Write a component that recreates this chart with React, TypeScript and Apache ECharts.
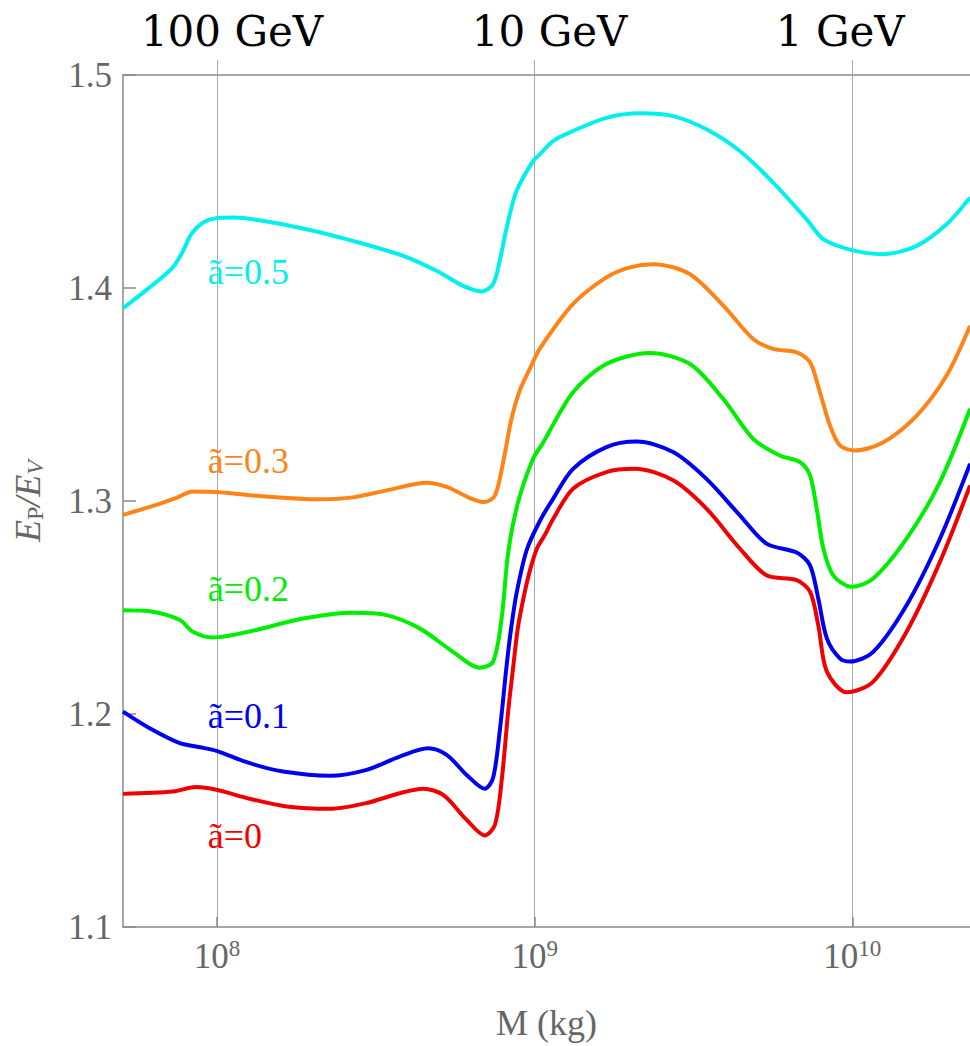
import React, { useEffect, useRef } from "react";
import * as echarts from "echarts";

// x: log10 of mass M (kg), y: E_P / E_V
const a05LogM = [7.704, 7.788, 7.861, 7.893, 7.919, 7.956, 7.998, 8.05, 8.134, 8.282, 8.428, 8.586, 8.691, 8.775, 8.833, 8.869, 8.89, 8.912, 8.943, 8.995, 9.016, 9.058, 9.121, 9.226, 9.331, 9.436, 9.541, 9.646, 9.751, 9.856, 9.909, 9.998, 10.098, 10.203, 10.297, 10.371];
const a05Ratio = [1.3905, 1.4003, 1.4097, 1.4174, 1.4253, 1.4307, 1.4328, 1.4331, 1.4318, 1.4276, 1.4221, 1.4151, 1.4081, 1.401, 1.3984, 1.4018, 1.4127, 1.4284, 1.4456, 1.4596, 1.4627, 1.469, 1.4737, 1.4799, 1.482, 1.4807, 1.4745, 1.4643, 1.4495, 1.4323, 1.4229, 1.4178, 1.4159, 1.4198, 1.4299, 1.4425];

const a03LogM = [7.704, 7.798, 7.872, 7.924, 7.998, 8.113, 8.323, 8.428, 8.534, 8.66, 8.723, 8.796, 8.843, 8.875, 8.901, 8.927, 8.953, 8.985, 9.016, 9.121, 9.226, 9.3, 9.373, 9.489, 9.594, 9.688, 9.751, 9.825, 9.867, 9.898, 9.93, 9.961, 10.008, 10.098, 10.203, 10.297, 10.371];
const a03Ratio = [1.2935, 1.2977, 1.3015, 1.3045, 1.3042, 1.3026, 1.3008, 1.3017, 1.305, 1.3086, 1.3066, 1.3014, 1.2995, 1.3026, 1.3183, 1.3386, 1.3518, 1.3621, 1.3714, 1.3925, 1.405, 1.4097, 1.4112, 1.4065, 1.3917, 1.3761, 1.3714, 1.3698, 1.3651, 1.3511, 1.3354, 1.3261, 1.3237, 1.3276, 1.3401, 1.3589, 1.3823];

const a02LogM = [7.704, 7.798, 7.883, 7.924, 7.987, 8.113, 8.271, 8.428, 8.534, 8.638, 8.743, 8.827, 8.869, 8.896, 8.917, 8.948, 8.995, 9.025, 9.121, 9.226, 9.363, 9.489, 9.594, 9.688, 9.772, 9.835, 9.867, 9.888, 9.909, 9.94, 9.998, 10.066, 10.171, 10.276, 10.371];
const a02Ratio = [1.2487, 1.248, 1.2441, 1.2386, 1.2359, 1.2391, 1.2448, 1.2475, 1.2464, 1.2402, 1.2292, 1.2217, 1.2245, 1.2448, 1.2761, 1.2995, 1.3198, 1.327, 1.3511, 1.3643, 1.3695, 1.3643, 1.3479, 1.3292, 1.3214, 1.3183, 1.312, 1.2964, 1.2777, 1.2651, 1.2597, 1.2636, 1.2823, 1.3089, 1.3433];

const a01LogM = [7.704, 7.788, 7.883, 7.946, 7.998, 8.103, 8.208, 8.355, 8.471, 8.575, 8.665, 8.723, 8.786, 8.843, 8.869, 8.89, 8.912, 8.926, 8.943, 8.975, 9.016, 9.06, 9.121, 9.226, 9.321, 9.436, 9.541, 9.646, 9.73, 9.825, 9.867, 9.893, 9.92, 9.961, 9.993, 10.066, 10.171, 10.276, 10.371];
const a01Ratio = [1.2011, 1.1933, 1.1863, 1.1844, 1.1827, 1.1769, 1.173, 1.171, 1.1738, 1.18, 1.1839, 1.1808, 1.1714, 1.1649, 1.1699, 1.1918, 1.223, 1.2402, 1.2566, 1.277, 1.2905, 1.3015, 1.3151, 1.3253, 1.3279, 1.323, 1.3104, 1.2933, 1.28, 1.2758, 1.2698, 1.2542, 1.2355, 1.2261, 1.2246, 1.2292, 1.2511, 1.2823, 1.3175];

const a00LogM = [7.704, 7.861, 7.935, 7.998, 8.103, 8.219, 8.355, 8.471, 8.575, 8.649, 8.712, 8.786, 8.843, 8.875, 8.896, 8.917, 8.932, 8.947, 8.966, 8.985, 9.007, 9.032, 9.06, 9.121, 9.226, 9.316, 9.436, 9.541, 9.646, 9.73, 9.825, 9.867, 9.893, 9.92, 9.983, 10.066, 10.171, 10.276, 10.371];
const a00Ratio = [1.1625, 1.1636, 1.1657, 1.1644, 1.1602, 1.1566, 1.1555, 1.1582, 1.1628, 1.1649, 1.162, 1.1503, 1.143, 1.148, 1.1685, 1.2017, 1.2214, 1.2402, 1.2552, 1.2673, 1.2776, 1.284, 1.292, 1.3058, 1.3136, 1.3151, 1.3097, 1.2964, 1.2777, 1.2651, 1.2628, 1.2574, 1.2417, 1.2199, 1.2102, 1.2152, 1.2386, 1.2714, 1.3073];

const curveNames = ["ã=0.5", "ã=0.3", "ã=0.2", "ã=0.1", "ã=0"];
const curveColors = ["#00F0F0", "#FF8418", "#00EE00", "#0000F0", "#F00000"];
const curveLogM = [a05LogM, a03LogM, a02LogM, a01LogM, a00LogM];
const curveRatio = [a05Ratio, a03Ratio, a02Ratio, a01Ratio, a00Ratio];

const labelLogM = [7.9707, 7.9707, 7.9707, 7.9707, 7.9707];
const labelRatio = [1.4077, 1.3187, 1.2589, 1.1989, 1.1427];

const xMinLog = 7.704;
const xMaxLog = 10.3707;
const yTicks = [1.1, 1.2, 1.3, 1.4, 1.5];
const decadeExps = [8, 9, 10];
const energyLabels: Record<number, string> = { 8: "{a|100 GeV}", 9: "{a|10 GeV}", 10: "{b|1 GeV}" };

const SERIF = "Liberation Serif";
const GRAY = "#666666";

export default function App() {
  const ref = useRef<HTMLDivElement>(null);
  useEffect(() => {
    if (!ref.current) return;
    const chart = echarts.init(ref.current, null, { renderer: "svg" });
    const decades = decadeExps.map((e) => Math.pow(10, e));
    const xMin = Math.pow(10, xMinLog);
    const xMax = Math.pow(10, xMaxLog);
    const series = curveNames.map((name, i) => ({
      name,
      type: "line",
      data: curveLogM[i].map((l, j) => [Math.pow(10, l), curveRatio[i][j]]),
      smooth: 0.3,
      showSymbol: false,
      symbol: "none",
      lineStyle: { color: curveColors[i], width: 4 },
      itemStyle: { color: curveColors[i] },
      silent: true,
      markPoint: {
        symbol: "circle",
        symbolSize: 0,
        silent: true,
        data: [{ coord: [Math.pow(10, labelLogM[i]), labelRatio[i]] }],
        label: {
          show: true,
          position: "right",
          distance: 0,
          formatter: name,
          color: curveColors[i],
          fontFamily: SERIF,
          fontSize: 36,
        },
      },
    }));
    chart.setOption({
      animation: false,
      backgroundColor: "#ffffff",
      grid: { left: 123, top: 75, right: 0, height: 854, containLabel: false },
      xAxis: [
        {
          type: "log",
          logBase: 10,
          min: xMin,
          max: xMax,
          position: "bottom",
          axisLine: { show: true, lineStyle: { color: "#8a8a8a", width: 1.5 } },
          axisTick: { show: true, inside: true, length: 10, customValues: decades, lineStyle: { color: "#8a8a8a", width: 1.5 } },
          minorTick: { show: false },
          splitLine: { show: true, lineStyle: { color: "#a8a8a8", width: 1 } },
          axisLabel: {
            customValues: decades,
            margin: 10,
            formatter: (v: number) => "{b|10}{s|" + Math.round(Math.log10(v)) + "}",
            rich: {
              b: { fontFamily: SERIF, fontSize: 35, color: GRAY },
              s: { fontFamily: SERIF, fontSize: 23, color: GRAY, padding: [0, 0, 16, 0] },
            },
          },
          name: "M (kg)",
          nameLocation: "middle",
          nameGap: 78,
          nameTextStyle: { fontFamily: SERIF, fontSize: 36, color: GRAY },
        },
        {
          type: "log",
          logBase: 10,
          min: xMin,
          max: xMax,
          position: "top",
          axisLine: { show: true, lineStyle: { color: "#8a8a8a", width: 1.5 } },
          axisTick: { show: true, inside: false, length: 15, customValues: decades, lineStyle: { color: "#a8a8a8", width: 1 } },
          minorTick: { show: false },
          splitLine: { show: false },
          axisLabel: {
            customValues: decades,
            margin: 23,
            formatter: (v: number) => energyLabels[Math.round(Math.log10(v))] || "",
            rich: {
              a: { fontFamily: "DejaVu Serif", fontSize: 42, color: "#000", padding: [0, 0, 0, 30] },
              b: { fontFamily: "DejaVu Serif", fontSize: 42, color: "#000", padding: [0, 24, 0, 0] },
            },
          },
        },
      ],
      yAxis: {
        type: "value",
        min: 1.1,
        max: 1.5,
        interval: 0.1,
        axisLine: { show: true, lineStyle: { color: "#8a8a8a", width: 1.5 } },
        axisTick: { show: true, inside: true, length: 13, lineStyle: { color: "#8a8a8a", width: 1.5 } },
        splitLine: { show: false },
        axisLabel: {
          margin: 11,
          fontFamily: SERIF,
          fontSize: 35,
          color: GRAY,
          formatter: (v: number) => {
            const t = yTicks.find((y) => Math.abs(y - v) < 1e-6);
            return t !== undefined ? t.toFixed(1) : "";
          },
        },
        name: "{i|E}{s|P}{i|/E}{t|V}",
        nameLocation: "middle",
        nameRotate: 90,
        nameGap: 76,
        nameTextStyle: {
          rich: {
            i: { fontFamily: SERIF, fontStyle: "italic", fontSize: 36, color: GRAY },
            s: { fontFamily: SERIF, fontSize: 24, color: GRAY, padding: [14, 0, 0, 0] },
            t: { fontFamily: SERIF, fontStyle: "italic", fontSize: 24, color: GRAY, padding: [14, 0, 0, 0] },
          },
        },
      },
      series,
    });
    return () => chart.dispose();
  }, []);
  return (
    <div
      ref={ref}
      style={{ position: "absolute", left: 0, top: 0, width: 970, height: 1046 }}
    />
  );
}
